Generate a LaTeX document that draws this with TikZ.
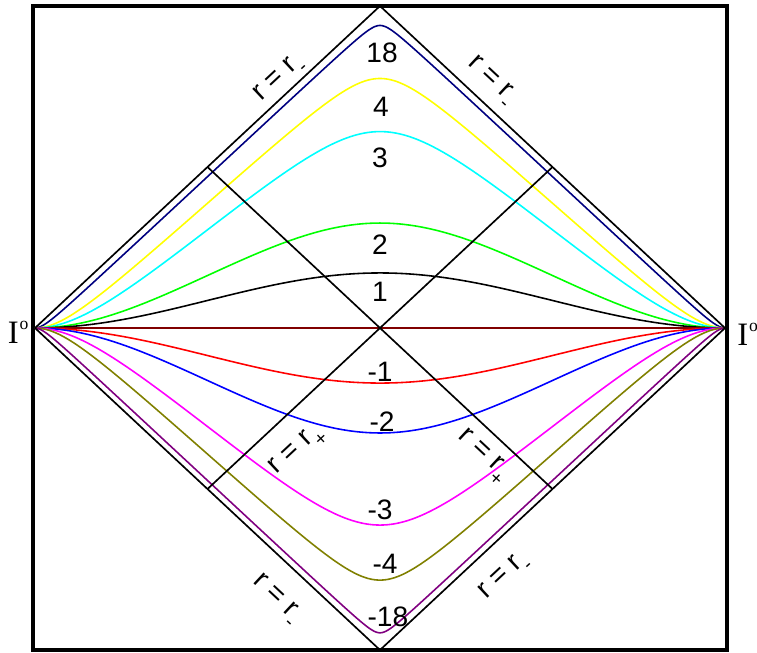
\documentclass[tikz,border=0pt]{standalone}
\usepackage{fontspec}
\setmainfont{Liberation Sans}
\newfontfamily\serifio{Liberation Serif}
\usetikzlibrary{positioning}
\definecolor{navy}{HTML}{000080}
\definecolor{maroon}{HTML}{800000}
\definecolor{olive}{HTML}{808000}
\definecolor{purp}{HTML}{800080}
\definecolor{cyanline}{HTML}{00FFFF}
\definecolor{magline}{HTML}{FF00FF}
\definecolor{yelline}{HTML}{FFFF00}
\newcommand{\subfont}{\fontsize{11}{11}\selectfont}
\newcommand{\rlabminus}{r = r\raisebox{-0.6ex}{\subfont -}}
\newcommand{\rlabplus}{r = r\raisebox{-0.7ex}{\subfont +}}
\newcommand{\ionode}{\serifio I\kern0.5pt\raisebox{7.8pt}{\fontsize{10}{10}\selectfont o}}

\begin{document}
\begin{tikzpicture}[
  x=6.9cm, y=6.44cm,
  edge/.style={black, line width=0.95pt},
  curve/.style={line width=0.9pt},
  num/.style={font=\fontsize{16}{18}\selectfont, inner sep=0pt},
  rlab/.style={font=\fontsize{16}{18}\selectfont, inner sep=0pt},
  iolab/.style={font=\fontsize{18.6}{20}\selectfont, inner sep=0pt},
]
\useasboundingbox (-1.10145,-1.00621) rectangle (1.09275,1.01863);
% corners of the diamond
\coordinate (W) at (-1,0);
\coordinate (E) at (1,0);
\coordinate (N) at (0,1);
\coordinate (S) at (0,-1);
\path (W) -- (N) coordinate[midway] (wn);
\path (N) -- (E) coordinate[midway] (ne);
\path (E) -- (S) coordinate[midway] (es);
\path (S) -- (W) coordinate[midway] (sw);
% frame
\draw[line width=2.3pt] (-1.005,-1) rectangle (1.005,1);
% slices
\foreach \h/\col in {
  0.94/navy, 0.775/yelline, 0.61/cyanline, 0.326/green, 0.171/black,
  0/maroon,
  -0.171/red, -0.326/blue, -0.612/magline, -0.783/olive, -0.947/purp%
}{
  \pgfmathsetmacro\ph{90*\h}
  \draw[curve, \col] plot[domain=-1:1, samples=241]
    (\x, {(\ph + asin(sin(\ph)*cos(180*\x)))/180});
}
% horizons
\draw[edge] (W) -- (N) -- (E) -- (S) -- cycle;
\draw[edge] (wn) -- (es);
\draw[edge] (ne) -- (sw);
% slice labels
\foreach \px/\py/\txt/\nm in {
  0.006/0.854/18/p18, 0.003/0.686/4/p4, 0/0.528/3/p3,
  0/0.258/2/p2, 0/0.112/1/p1,
  0/-0.137/-1/m1, 0.006/-0.292/-2/m2, 0/-0.565/-3/m3,
  0.0145/-0.733/-4/m4, 0.023/-0.898/-18/m18%
}{
  \node[num] (lab\nm) at (\px,\py) {\txt};
}
% horizon labels
\node[rlab, rotate=43] (rul) at (-0.29,0.770) {\rlabminus};
\node[rlab, rotate=-43] (rur) at (0.319,0.764) {\rlabminus};
\node[rlab, rotate=-43] (rll) at (-0.304,-0.845) {\rlabminus};
\node[rlab, rotate=43] (rlr) at (0.362,-0.776) {\rlabminus};
\node[rlab, rotate=43] (rpl) at (-0.238,-0.385) {\rlabplus};
\node[rlab, rotate=-43] (rpr) at (0.296,-0.401) {\rlabplus};
% spatial infinity
\node[iolab, anchor=base east] (iow) at (-1.018,-0.0466) {\ionode};
\node[iolab, anchor=base west] (ioe) at (1.035,-0.0528) {\ionode};
\end{tikzpicture}
\end{document}
